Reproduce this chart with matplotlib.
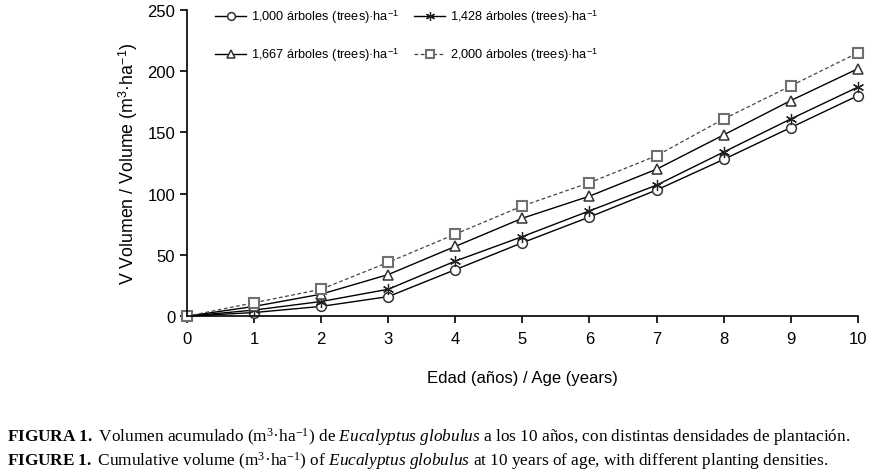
import matplotlib
matplotlib.use("Agg")
import matplotlib.pyplot as plt

# data
edad = [0, 1, 2, 3, 4, 5, 6, 7, 8, 9, 10]
vol_1000 = [0, 3, 8, 16, 38, 60, 81, 103, 128, 154, 180]
vol_1428 = [0, 5, 12, 22, 45, 65, 86, 107, 134, 161, 187]
vol_1667 = [0, 8, 18, 34, 57, 80, 98, 120, 148, 176, 202]
vol_2000 = [0, 11, 22, 44, 67, 90, 109, 131, 161, 188, 215]

sup = r"$^{\mathregular{-1}}$"
sup3 = r"$^{\mathregular{3}}$"
labels = ["1,000 árboles (trees)·ha" + sup, "1,428 árboles (trees)·ha" + sup,
          "1,667 árboles (trees)·ha" + sup, "2,000 árboles (trees)·ha" + sup]
yticks = [0, 50, 100, 150, 200, 250]

plt.rcParams['font.family'] = ['Liberation Sans', 'DejaVu Sans']
plt.rcParams['mathtext.fontset'] = 'custom'
plt.rcParams['mathtext.rm'] = 'Liberation Serif'
plt.rcParams['mathtext.bf'] = 'Liberation Serif:bold'
plt.rcParams['mathtext.it'] = 'Liberation Serif:italic'

fig = plt.figure(figsize=(8.78, 4.77), dpi=100)
ax = fig.add_axes([0.213, 0.335, 0.764, 0.642])

grey = '#707070'
l1, = ax.plot(edad, vol_1000, '-', color='black', lw=1, marker='o', ms=7,
              mfc='white', mec='#333333', mew=1.1, clip_on=False, label=labels[0])
l2, = ax.plot(edad, vol_1428, '-', color='black', lw=1, marker=(6, 2, 0), ms=8,
              mec='#222222', mew=0.9, clip_on=False, label=labels[1])
l3, = ax.plot(edad, vol_1667, '-', color='black', lw=1, marker='^', ms=7,
              mfc='white', mec='#333333', mew=1.1, clip_on=False, label=labels[2])
l4, = ax.plot(edad, vol_2000, '--', color='#444444', lw=0.9, dashes=(3, 2), marker='s', ms=6.5,
              mfc='white', mec=grey, mew=1.5, clip_on=False, label=labels[3])

ax.set_xlim(0, 10)
ax.set_ylim(0, 250)
ax.set_xticks(edad)
ax.set_yticks(yticks)
ax.spines['top'].set_visible(False)
ax.spines['right'].set_visible(False)
ax.spines['left'].set_linewidth(1.2)
ax.spines['bottom'].set_linewidth(1.2)
ax.tick_params(labelsize=12, length=5, width=1.2, color='black')
ax.tick_params(axis='x', pad=6)
ax.set_xlabel("Edad (años) / Age (years)", fontsize=12, labelpad=17)
ax.set_ylabel("V Volumen / Volume (m" + sup3 + "·ha" + sup + ")", fontsize=12.8, labelpad=5)

ax.legend([l1, l3, l2, l4], [labels[0], labels[2], labels[1], labels[3]],
          ncol=2, frameon=False, fontsize=9.2, loc='upper left',
          bbox_to_anchor=(0.025, 1.045), labelspacing=1.6, columnspacing=1.2,
          handlelength=2.4, handletextpad=0.4, markerscale=0.8)

# caption, one line each, bold/italic parts through mathtext
cap_es = (r"$\mathbf{FIGURA\ 1.}$ Volumen acumulado (m" + sup3 + "·ha" + sup +
          r") de $\mathit{Eucalyptus\ globulus}$ a los 10 años, con distintas densidades de plantación.")
cap_en = (r"$\mathbf{FIGURE\ 1.}$ Cumulative volume (m" + sup3 + "·ha" + sup +
          r") of $\mathit{Eucalyptus\ globulus}$ at 10 years of age, with different planting densities.")
cap_font = ['Liberation Serif', 'DejaVu Serif']
fig.text(0.008, 0.074, cap_es, fontsize=12.4, family=cap_font, va='baseline')
fig.text(0.008, 0.024, cap_en, fontsize=12.4, family=cap_font, va='baseline')

fig.savefig("out.png", dpi=100)
